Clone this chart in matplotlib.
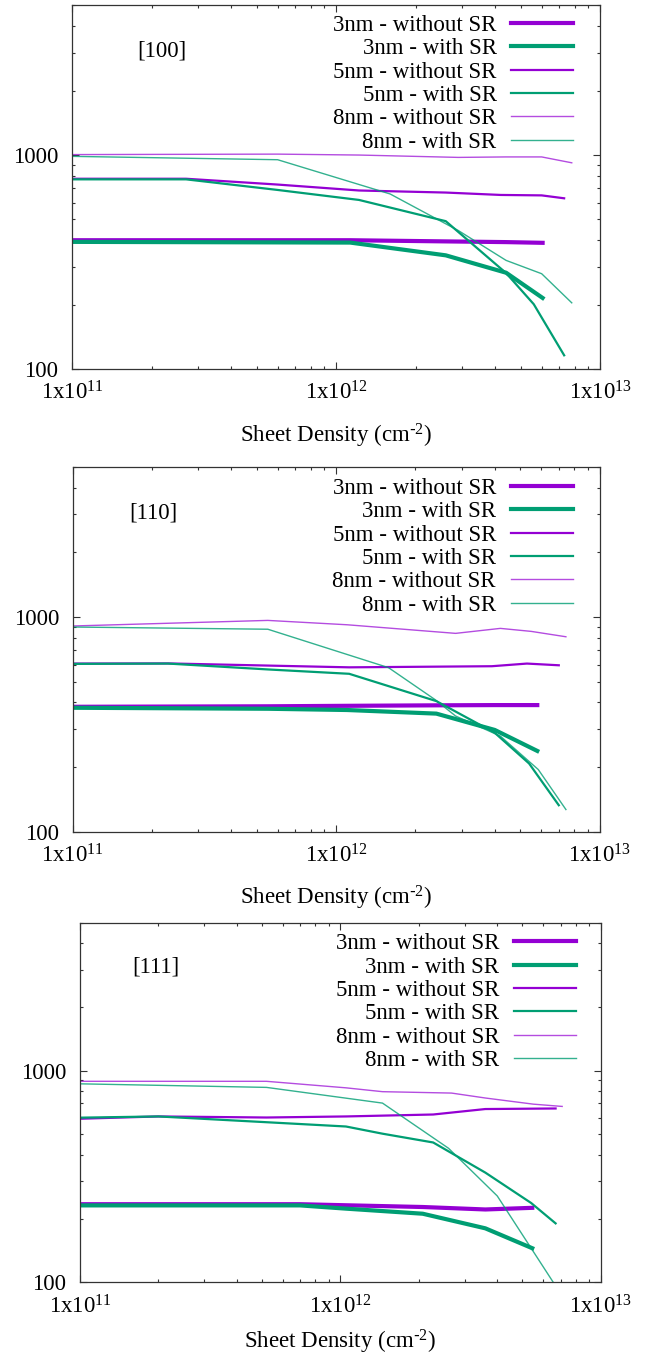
import matplotlib
matplotlib.use('Agg')
import matplotlib.pyplot as plt
from matplotlib.ticker import LogLocator, NullFormatter

plt.rcParams['font.family'] = ['Liberation Serif', 'DejaVu Serif']
plt.rcParams['mathtext.default'] = 'regular'
plt.rcParams['font.size'] = 16.5

#series labels
labels = ['3nm - without SR', '3nm - with SR', '5nm - without SR',
          '5nm - with SR', '8nm - without SR', '8nm - with SR']

#[100] data
x100_3wo = [1e11, 1.13e12, 2.6e12, 4.4e12, 6.05e12]
y100_3wo = [400, 400, 395, 392, 389]
x100_3w = [1e11, 1.13e12, 2.6e12, 4.4e12, 6.05e12]
y100_3w = [393, 390, 340, 282, 215]
x100_5wo = [1e11, 2.7e11, 6e11, 1.22e12, 2.6e12, 4.2e12, 6e12, 7.3e12]
y100_5wo = [775, 775, 728, 683, 668, 651, 648, 628]
x100_5w = [1e11, 2.7e11, 6e11, 1.22e12, 2.6e12, 4.4e12, 5.6e12, 7.3e12]
y100_5w = [770, 770, 687, 617, 491, 281, 201, 116]
x100_8wo = [1e11, 6e11, 1.22e12, 2.9e12, 4.4e12, 6e12, 7.8e12]
y100_8wo = [1005, 1010, 1000, 975, 980, 980, 920]
x100_8w = [1e11, 6e11, 1.6e12, 2.9e12, 4.4e12, 6e12, 7.8e12]
y100_8w = [986, 951, 658, 444, 322, 279, 204]

#[110] data
x110_3wo = [1e11, 5.5e11, 1.1e12, 2.4e12, 4e12, 5.8e12]
y110_3wo = [382, 384, 386, 388, 389, 389]
x110_3w = [1e11, 5.5e11, 1.1e12, 2.4e12, 4e12, 5.8e12]
y110_3w = [378, 374, 369, 355, 298, 238]
x110_5wo = [1e11, 2.3e11, 1.12e12, 3.9e12, 5.3e12, 7e12]
y110_5wo = [607, 608, 583, 590, 607, 596]
x110_5w = [1e11, 2.3e11, 5.5e11, 1.12e12, 2.4e12, 4e12, 5.4e12, 7e12]
y110_5w = [605, 607, 570, 544, 406, 289, 208, 133]
x110_8wo = [1e11, 5.5e11, 1.1e12, 2.84e12, 4.2e12, 5.5e12, 7.45e12]
y110_8wo = [908, 964, 920, 839, 885, 857, 809]
x110_8w = [1e11, 5.5e11, 1.58e12, 2.37e12, 2.84e12, 4.2e12, 5.85e12, 7.45e12]
y110_8w = [898, 877, 581, 413, 346, 279, 195, 127]

#[111] data
x111_3wo = [1e11, 7e11, 2.07e12, 3.6e12, 5.45e12]
y111_3wo = [234, 234, 227, 221, 225]
x111_3w = [1e11, 7e11, 1.05e12, 2.07e12, 3.6e12, 5.45e12]
y111_3w = [231, 231, 223, 211, 180, 145]
x111_5wo = [1e11, 2e11, 5.2e11, 1.05e12, 2.27e12, 3.6e12, 6.7e12]
y111_5wo = [593, 608, 601, 608, 621, 659, 663]
x111_5w = [1e11, 2e11, 5.2e11, 1.05e12, 1.45e12, 2.27e12, 3.6e12, 5.4e12, 6.7e12]
y111_5w = [600, 608, 571, 545, 504, 458, 330, 237, 190]
x111_8wo = [1e11, 5.2e11, 1.05e12, 1.45e12, 2.67e12, 3.6e12, 5.5e12, 7.1e12]
y111_8wo = [891, 891, 830, 796, 784, 743, 695, 678]
x111_8w = [1e11, 5.2e11, 1.45e12, 2.6e12, 4e12, 6.6e12]
y111_8w = [867, 834, 703, 430, 256, 99]

panels = [
    ('[100]', [(x100_3wo, y100_3wo), (x100_3w, y100_3w), (x100_5wo, y100_5wo),
               (x100_5w, y100_5w), (x100_8wo, y100_8wo), (x100_8w, y100_8w)]),
    ('[110]', [(x110_3wo, y110_3wo), (x110_3w, y110_3w), (x110_5wo, y110_5wo),
               (x110_5w, y110_5w), (x110_8wo, y110_8wo), (x110_8w, y110_8w)]),
    ('[111]', [(x111_3wo, y111_3wo), (x111_3w, y111_3w), (x111_5wo, y111_5wo),
               (x111_5w, y111_5w), (x111_8wo, y111_8wo), (x111_8w, y111_8w)]),
]

purple = '#9400d3'
green = '#009e73'
colors = [purple, green] * 3
widths = [3.0, 3.0, 1.6, 1.6, 1.0, 1.0]
alphas = [1, 1, 1, 1, 0.7, 0.8]

#axes rectangles (left, bottom, width, height) and where things sit
rects = [(0.110, 0.728, 0.805, 0.268),
         (0.111, 0.387, 0.803, 0.269),
         (0.122, 0.055, 0.794, 0.265)]
tag_pos = [(0.17, 0.876), (0.152, 0.874), (0.146, 0.877)]
leg_pos = [(0.949, 0.974), (0.949, 0.969), (0.952, 0.971)]
xlab_pad = [12, 12, 7]

fig = plt.figure(figsize=(6.56, 13.57), dpi=100)

for i, (tag, series) in enumerate(panels):
    ax = fig.add_axes(rects[i])
    for (x, y), lab, c, lw, a in zip(series, labels, colors, widths, alphas):
        ax.plot(x, y, color=c, lw=lw, alpha=a, label=lab)
    ax.set_xscale('log')
    ax.set_yscale('log')
    ax.set_xlim(1e11, 1e13)
    ax.set_ylim(100, 5000)
    ax.set_xticks([1e11, 1e12, 1e13], ['1x10$^{11}$', '1x10$^{12}$', '1x10$^{13}$'])
    ax.set_yticks([100, 1000], ['100', '1000'])
    ax.xaxis.set_minor_locator(LogLocator(subs=range(2, 10)))
    ax.yaxis.set_minor_locator(LogLocator(subs=range(2, 10)))
    ax.xaxis.set_minor_formatter(NullFormatter())
    ax.yaxis.set_minor_formatter(NullFormatter())
    ax.tick_params(which='both', direction='in', top=True, right=True, width=0.8, color='#333333')
    ax.tick_params(which='major', length=5)
    ax.tick_params(which='minor', length=2.3)
    ax.tick_params(axis='x', pad=9)
    ax.tick_params(axis='y', pad=10)
    for s in ax.spines.values():
        s.set_linewidth(0.9)
        s.set_color('#333333')
    ax.set_xlabel(r'Sheet Density (cm$^{\text{-}2}$)', labelpad=xlab_pad[i])
    ax.text(tag_pos[i][0], tag_pos[i][1], tag, transform=ax.transAxes,
            ha='center', va='center')
    leg = ax.legend(loc='upper right', bbox_to_anchor=leg_pos[i], frameon=False,
                    markerfirst=False, borderpad=0, borderaxespad=0,
                    handlelength=2.7, handletextpad=0.65, labelspacing=0.1)
    #right-align the legend text like gnuplot does
    for col in leg._legend_handle_box.get_children():
        col.align = 'right'

plt.savefig('out.png', dpi=100)
